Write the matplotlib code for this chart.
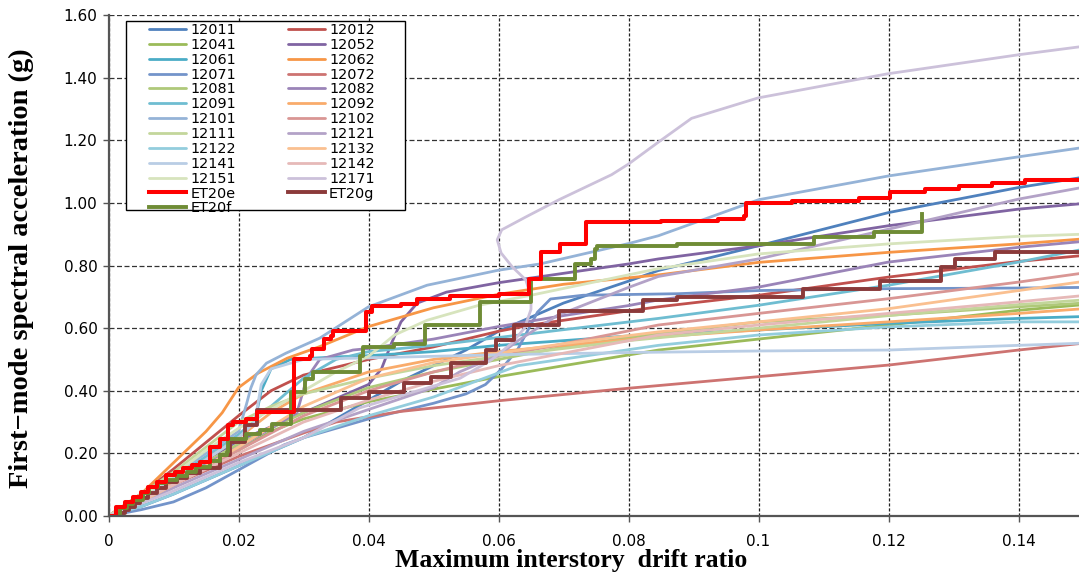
import matplotlib
matplotlib.use("Agg")
import matplotlib.pyplot as plt
from matplotlib.patches import Rectangle

# ---- data (drift ratio, Sa in g) ----
x_12011 = [0, 0.005, 0.01, 0.02, 0.03, 0.035, 0.04, 0.045, 0.05, 0.055, 0.06, 0.07, 0.08, 0.0846, 0.10, 0.12, 0.14, 0.15]
y_12011 = [0, 0.03, 0.07, 0.16, 0.25, 0.31, 0.37, 0.43, 0.48, 0.53, 0.59, 0.68, 0.75, 0.784, 0.863, 0.969, 1.049, 1.082]
x_12012 = [0, 0.005, 0.01, 0.015, 0.02, 0.025, 0.03, 0.04, 0.05, 0.06, 0.065, 0.08, 0.0846, 0.10, 0.12, 0.14, 0.15]
y_12012 = [0, 0.07, 0.15, 0.235, 0.32, 0.40, 0.45, 0.50, 0.54, 0.59, 0.61, 0.655, 0.668, 0.705, 0.763, 0.813, 0.832]
x_12041 = [0, 0.005, 0.01, 0.015, 0.02, 0.025, 0.03, 0.04, 0.05, 0.06, 0.07, 0.0846, 0.10, 0.12, 0.14, 0.15]
y_12041 = [0, 0.05, 0.10, 0.16, 0.21, 0.27, 0.31, 0.365, 0.405, 0.445, 0.48, 0.53, 0.565, 0.61, 0.657, 0.675]
x_12052 = [0, 0.005, 0.01, 0.02, 0.03, 0.04, 0.042, 0.0435, 0.045, 0.0475, 0.052, 0.06, 0.07, 0.08, 0.0846, 0.10, 0.12, 0.14, 0.15]
y_12052 = [0, 0.06, 0.12, 0.24, 0.33, 0.42, 0.47, 0.55, 0.62, 0.68, 0.715, 0.745, 0.775, 0.805, 0.821, 0.863, 0.927, 0.98, 0.998]
x_12061 = [0, 0.005, 0.01, 0.015, 0.02, 0.0225, 0.0235, 0.025, 0.028, 0.035, 0.04, 0.05, 0.06, 0.08, 0.10, 0.12, 0.14, 0.15]
y_12061 = [0, 0.06, 0.12, 0.18, 0.25, 0.30, 0.40, 0.47, 0.50, 0.508, 0.512, 0.525, 0.545, 0.575, 0.594, 0.615, 0.631, 0.637]
x_12062 = [0, 0.005, 0.01, 0.015, 0.0175, 0.02, 0.023, 0.0275, 0.0325, 0.04, 0.05, 0.06, 0.07, 0.0846, 0.10, 0.12, 0.14, 0.15]
y_12062 = [0, 0.07, 0.17, 0.27, 0.33, 0.41, 0.456, 0.504, 0.541, 0.605, 0.665, 0.708, 0.74, 0.77, 0.81, 0.842, 0.869, 0.885]
x_12071 = [0, 0.005, 0.01, 0.015, 0.02, 0.027, 0.03, 0.04, 0.05, 0.055, 0.058, 0.0605, 0.063, 0.066, 0.068, 0.073, 0.0877, 0.10, 0.12, 0.14, 0.15]
y_12071 = [0, 0.02, 0.045, 0.09, 0.147, 0.227, 0.25, 0.31, 0.36, 0.39, 0.42, 0.47, 0.534, 0.651, 0.693, 0.705, 0.71, 0.72, 0.726, 0.728, 0.73]
x_12072 = [0, 0.005, 0.01, 0.02, 0.03, 0.035, 0.045, 0.05, 0.06, 0.08, 0.10, 0.12, 0.14, 0.15]
y_12072 = [0, 0.05, 0.10, 0.19, 0.265, 0.30, 0.334, 0.345, 0.368, 0.408, 0.445, 0.482, 0.53, 0.552]
x_12081 = [0, 0.005, 0.01, 0.02, 0.03, 0.04, 0.05, 0.06, 0.07, 0.0846, 0.10, 0.12, 0.14, 0.15]
y_12081 = [0, 0.05, 0.11, 0.23, 0.33, 0.41, 0.46, 0.50, 0.54, 0.583, 0.62, 0.641, 0.668, 0.68]
x_12082 = [0, 0.005, 0.01, 0.02, 0.025, 0.029, 0.0305, 0.0325, 0.0376, 0.04, 0.05, 0.06, 0.07, 0.08, 0.0846, 0.10, 0.12, 0.14, 0.15]
y_12082 = [0, 0.05, 0.11, 0.22, 0.28, 0.33, 0.44, 0.50, 0.53, 0.535, 0.565, 0.605, 0.64, 0.672, 0.69, 0.731, 0.811, 0.858, 0.877]
x_12091 = [0, 0.005, 0.01, 0.02, 0.025, 0.03, 0.035, 0.04, 0.05, 0.06, 0.07, 0.0846, 0.10, 0.12, 0.14, 0.15]
y_12091 = [0, 0.06, 0.12, 0.26, 0.35, 0.44, 0.50, 0.525, 0.545, 0.57, 0.595, 0.631, 0.673, 0.737, 0.811, 0.852]
x_12092 = [0, 0.005, 0.01, 0.015, 0.02, 0.025, 0.03, 0.04, 0.05, 0.06, 0.07, 0.0846, 0.10, 0.12, 0.14, 0.15]
y_12092 = [0, 0.05, 0.11, 0.18, 0.25, 0.33, 0.39, 0.46, 0.50, 0.525, 0.545, 0.572, 0.594, 0.62, 0.647, 0.662]
x_12101 = [0, 0.005, 0.01, 0.015, 0.02, 0.0212, 0.0219, 0.0227, 0.0243, 0.0273, 0.0325, 0.04, 0.049, 0.06, 0.0664, 0.08, 0.0846, 0.10, 0.12, 0.14, 0.15]
y_12101 = [0, 0.06, 0.13, 0.20, 0.27, 0.355, 0.409, 0.451, 0.488, 0.52, 0.568, 0.668, 0.737, 0.785, 0.805, 0.87, 0.895, 1.01, 1.086, 1.147, 1.177]
x_12102 = [0, 0.005, 0.01, 0.02, 0.03, 0.04, 0.05, 0.06, 0.07, 0.0846, 0.10, 0.12, 0.14, 0.15]
y_12102 = [0, 0.05, 0.10, 0.21, 0.32, 0.40, 0.46, 0.51, 0.55, 0.61, 0.647, 0.694, 0.747, 0.776]
x_12111 = [0, 0.005, 0.01, 0.02, 0.025, 0.03, 0.04, 0.05, 0.06, 0.08, 0.10, 0.12, 0.14, 0.15]
y_12111 = [0, 0.07, 0.14, 0.30, 0.35, 0.39, 0.44, 0.48, 0.51, 0.56, 0.60, 0.64, 0.675, 0.69]
x_12121 = [0, 0.005, 0.01, 0.02, 0.03, 0.04, 0.05, 0.054, 0.06, 0.063, 0.069, 0.08, 0.0846, 0.10, 0.12, 0.14, 0.15]
y_12121 = [0, 0.04, 0.09, 0.18, 0.27, 0.34, 0.41, 0.46, 0.513, 0.56, 0.64, 0.73, 0.765, 0.821, 0.916, 1.012, 1.05]
x_12122 = [0, 0.005, 0.01, 0.02, 0.03, 0.04, 0.05, 0.063, 0.0846, 0.10, 0.12, 0.14, 0.15]
y_12122 = [0, 0.03, 0.07, 0.16, 0.25, 0.32, 0.38, 0.48, 0.545, 0.578, 0.604, 0.62, 0.62]
x_12132 = [0, 0.005, 0.01, 0.02, 0.03, 0.04, 0.05, 0.06, 0.07, 0.0846, 0.10, 0.12, 0.14, 0.15]
y_12132 = [0, 0.045, 0.10, 0.22, 0.35, 0.44, 0.49, 0.52, 0.55, 0.588, 0.62, 0.662, 0.72, 0.749]
x_12141 = [0, 0.005, 0.01, 0.015, 0.02, 0.0225, 0.0235, 0.025, 0.03, 0.04, 0.06, 0.08, 0.10, 0.12, 0.14, 0.15]
y_12141 = [0, 0.06, 0.12, 0.18, 0.25, 0.30, 0.42, 0.47, 0.50, 0.505, 0.515, 0.522, 0.527, 0.53, 0.545, 0.552]
x_12142 = [0, 0.005, 0.01, 0.02, 0.03, 0.04, 0.05, 0.06, 0.07, 0.0846, 0.10, 0.12, 0.14, 0.15]
y_12142 = [0, 0.05, 0.10, 0.20, 0.30, 0.37, 0.43, 0.48, 0.52, 0.578, 0.61, 0.647, 0.684, 0.704]
x_12151 = [0, 0.005, 0.01, 0.015, 0.02, 0.025, 0.03, 0.035, 0.04, 0.044, 0.049, 0.057, 0.065, 0.0846, 0.10, 0.12, 0.14, 0.15]
y_12151 = [0, 0.06, 0.13, 0.21, 0.28, 0.34, 0.40, 0.46, 0.51, 0.578, 0.625, 0.673, 0.705, 0.79, 0.837, 0.869, 0.893, 0.90]
x_12171 = [0, 0.01, 0.02, 0.03, 0.0386, 0.0438, 0.0541, 0.059, 0.0621, 0.064, 0.065, 0.065, 0.0642, 0.0621, 0.0604,
           0.0598, 0.0605, 0.0642, 0.0693, 0.0774, 0.08, 0.0846, 0.0897, 0.0999, 0.1198, 0.14, 0.15]
y_12171 = [0, 0.08, 0.17, 0.25, 0.345, 0.377, 0.44, 0.50, 0.553, 0.60, 0.66, 0.70, 0.754, 0.796, 0.84,
           0.882, 0.914, 0.955, 1.01, 1.09, 1.124, 1.194, 1.27, 1.335, 1.412, 1.473, 1.50]

# step records (step position, level held to the next step)
x_ET20e = [0, 0.0012, 0.0025, 0.0037, 0.005, 0.0061, 0.0075, 0.0089, 0.0102, 0.0115, 0.0128, 0.014, 0.0156,
           0.0171, 0.0184, 0.0192, 0.0212, 0.0228, 0.0285, 0.031, 0.0313, 0.0331, 0.0343, 0.0346, 0.0396,
           0.0405, 0.045, 0.0475, 0.0526, 0.06, 0.0647, 0.0666, 0.0695, 0.0735, 0.085, 0.0938, 0.0977,
           0.0981, 0.1051, 0.1154, 0.1203, 0.1256, 0.1308, 0.1359, 0.141, 0.15]
y_ET20e = [0, 0.03, 0.045, 0.062, 0.078, 0.093, 0.11, 0.13, 0.14, 0.152, 0.163, 0.173, 0.22,
           0.247, 0.29, 0.30, 0.311, 0.332, 0.502, 0.512, 0.534, 0.566, 0.576, 0.592, 0.65,
           0.672, 0.677, 0.693, 0.703, 0.71, 0.757, 0.843, 0.869, 0.938, 0.943, 0.948, 0.959,
           1.001, 1.006, 1.017, 1.035, 1.045, 1.054, 1.065, 1.072, 1.075]
x_ET20g = [0, 0.0017, 0.0025, 0.0032, 0.004, 0.0048, 0.0061, 0.0074, 0.0089, 0.0105, 0.012, 0.014, 0.0171,
           0.0187, 0.021, 0.0228, 0.0358, 0.04, 0.0455, 0.0496, 0.0527, 0.058, 0.0596, 0.0624, 0.0693,
           0.0822, 0.0875, 0.1069, 0.1187, 0.128, 0.1303, 0.1364, 0.15]
y_ET20g = [0, 0.0085, 0.02, 0.03, 0.043, 0.056, 0.072, 0.088, 0.109, 0.122, 0.136, 0.152, 0.194,
           0.237, 0.29, 0.34, 0.377, 0.395, 0.424, 0.443, 0.488, 0.529, 0.561, 0.611, 0.656,
           0.691, 0.70, 0.724, 0.749, 0.795, 0.821, 0.842, 0.848]
x_ET20f = [0, 0.0017, 0.0028, 0.0038, 0.0053, 0.0063, 0.0076, 0.0089, 0.0105, 0.012, 0.0135, 0.0156, 0.0171,
           0.0182, 0.0184, 0.0212, 0.0233, 0.0251, 0.0281, 0.0302, 0.0315, 0.0387, 0.0392, 0.0439, 0.0487,
           0.0572, 0.065, 0.0718, 0.0743, 0.0748, 0.0751, 0.0875, 0.1086, 0.1178, 0.1251]
y_ET20f = [0, 0.024, 0.038, 0.051, 0.072, 0.093, 0.104, 0.115, 0.128, 0.141, 0.157, 0.175, 0.194,
           0.205, 0.247, 0.263, 0.274, 0.295, 0.396, 0.438, 0.459, 0.512, 0.539, 0.55, 0.61,
           0.683, 0.757, 0.805, 0.821, 0.853, 0.862, 0.869, 0.89, 0.908, 0.964]

smooth = [
    ("12011", x_12011, y_12011, "#4F81BD"), ("12012", x_12012, y_12012, "#C0504D"),
    ("12041", x_12041, y_12041, "#9BBB59"), ("12052", x_12052, y_12052, "#8064A2"),
    ("12061", x_12061, y_12061, "#4BACC6"), ("12062", x_12062, y_12062, "#F79646"),
    ("12071", x_12071, y_12071, "#7394CA"), ("12072", x_12072, y_12072, "#CD7371"),
    ("12081", x_12081, y_12081, "#AFC97A"), ("12082", x_12082, y_12082, "#9A84B8"),
    ("12091", x_12091, y_12091, "#6FBDD1"), ("12092", x_12092, y_12092, "#F9AB6B"),
    ("12101", x_12101, y_12101, "#95B3D7"), ("12102", x_12102, y_12102, "#D99694"),
    ("12111", x_12111, y_12111, "#C3D69B"), ("12121", x_12121, y_12121, "#B3A2C7"),
    ("12122", x_12122, y_12122, "#93CDDD"), ("12132", x_12132, y_12132, "#FAC090"),
    ("12141", x_12141, y_12141, "#B9CDE5"), ("12142", x_12142, y_12142, "#E6B9B8"),
    ("12151", x_12151, y_12151, "#D7E4BD"), ("12171", x_12171, y_12171, "#CCC1DA"),
]
steps = [
    ("ET20g", x_ET20g, y_ET20g, "#8B3A3A", 2.8),
    ("ET20f", x_ET20f, y_ET20f, "#6F8C35", 2.8),
    ("ET20e", x_ET20e, y_ET20e, "#FF0000", 2.9),
]

left_col = ["12011", "12041", "12061", "12071", "12081", "12091", "12101",
            "12111", "12122", "12141", "12151", "ET20e", "ET20f"]
right_col = ["12012", "12052", "12062", "12072", "12082", "12092", "12102",
             "12121", "12132", "12142", "12171", "ET20g"]

# ---- figure ----
W, H = 1079, 576
fig = plt.figure(figsize=(W / 100, H / 100), dpi=100)
ax = fig.add_axes([108.5 / W, 60 / H, 1 - 108.5 / W, 501 / H])

handles = {}
for name, xs, ys, col in smooth:
    ln, = ax.plot(xs, ys, color=col, lw=2.0, solid_capstyle="round", solid_joinstyle="round", label=name)
    handles[name] = ln
for name, xs, ys, col, lw in steps:
    ln, = ax.plot(xs, ys, color=col, lw=lw, drawstyle="steps-post", label=name)
    handles[name] = ln

ax.set_xlim(0, (W - 108.5) / 6500)
ax.set_ylim(0, 1.6)
ax.set_xticks([0, 0.02, 0.04, 0.06, 0.08, 0.10, 0.12, 0.14])
ax.set_xticklabels(["0", "0.02", "0.04", "0.06", "0.08", "0.1", "0.12", "0.14"])
ax.set_yticks([0, 0.2, 0.4, 0.6, 0.8, 1.0, 1.2, 1.4, 1.6])
ax.set_yticklabels(["%.2f" % v for v in [0, 0.2, 0.4, 0.6, 0.8, 1.0, 1.2, 1.4, 1.6]])
ax.tick_params(axis="both", direction="out", length=4, width=1, color="#555555",
               labelsize=11, labelcolor="black")
ax.tick_params(axis="x", pad=9)
ax.tick_params(axis="y", pad=4)

ax.yaxis.grid(True, color="#333333", lw=0.9, linestyle=(0, (4, 2)))
ax.xaxis.grid(True, color="#222222", lw=0.9, linestyle=(0, (2.5, 1.5)))
ax.set_axisbelow(True)
for s in ["top", "right"]:
    ax.spines[s].set_visible(False)
for s in ["left", "bottom"]:
    ax.spines[s].set_color("#555555")
    ax.spines[s].set_linewidth(1.6)

# legend: box drawn separately so its padding matches
box = Rectangle((126 / W, 1 - 210 / H), (405 - 126) / W, (210 - 21) / H,
                transform=fig.transFigure, facecolor="white", edgecolor="black",
                lw=1.0, zorder=10, clip_on=False)
ax.add_patch(box)
order = left_col + right_col
leg = ax.legend([handles[n] for n in order], order, ncol=2, loc="upper left",
                bbox_to_anchor=(149 / W, 1 - 23 / H), bbox_transform=fig.transFigure,
                frameon=False, fontsize=10.4, labelspacing=0.06, handlelength=2.55,
                handletextpad=0.3, columnspacing=3.6, borderpad=0, borderaxespad=0)
leg.set_zorder(11)

fig.text(571 / W, 1 - 561 / H, "Maximum interstory  drift ratio", ha="center", va="center",
         family="Liberation Serif", weight="bold", fontsize=18.5)
fig.text(21 / W, 1 - 268 / H, "First\u2212mode spectral acceleration (g)", ha="center", va="center",
         rotation=90, family="Liberation Serif", weight="bold", fontsize=20.5)

fig.savefig("out.png", dpi=100)
